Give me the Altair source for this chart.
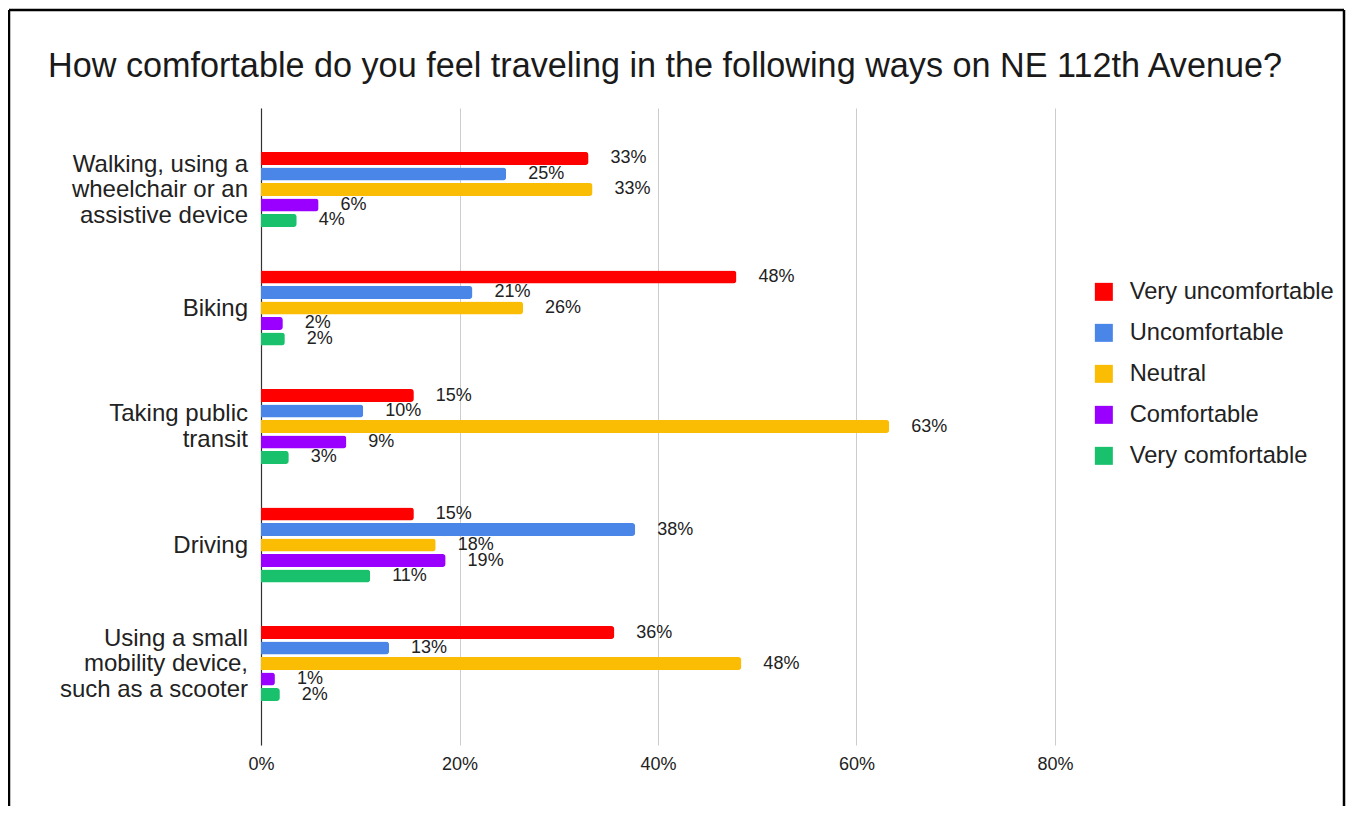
import altair as alt
import pandas as pd

categories = [
    "Walking, using a|wheelchair or an|assistive device",
    "Biking",
    "Taking public|transit",
    "Driving",
    "Using a small|mobility device,|such as a scooter",
]
series = ["Very uncomfortable", "Uncomfortable", "Neutral", "Comfortable", "Very comfortable"]
colors = ["#ff0000", "#4a86e8", "#fbbc04", "#9900ff", "#19c16c"]

very_uncomfortable = [0.330, 0.479, 0.154, 0.154, 0.356]
uncomfortable = [0.247, 0.213, 0.103, 0.377, 0.129]
neutral = [0.334, 0.264, 0.633, 0.176, 0.484]
comfortable = [0.058, 0.022, 0.086, 0.186, 0.014]
very_comfortable = [0.036, 0.024, 0.028, 0.110, 0.019]

x_ticks = [0, 0.2, 0.4, 0.6, 0.8]
title_text = "How comfortable do you feel traveling in the following ways on NE 112th Avenue?"

rows = []
for s, vals in zip(series, [very_uncomfortable, uncomfortable, neutral, comfortable, very_comfortable]):
    for c, v in zip(categories, vals):
        rows.append({"category": c, "series": s, "value": v})
df = pd.DataFrame(rows)
cat_df = pd.DataFrame({"category": categories})

FONT = "Liberation Sans, Arial, sans-serif"
LINE_H = 25.5

y_enc = alt.Y(
    "category:N",
    sort=categories,
    scale=alt.Scale(paddingInner=0.367, paddingOuter=0.371),
    axis=alt.Axis(
        title=None,
        ticks=False,
        domain=True,
        domainColor="#333333",
        domainWidth=1.2,
        labels=False,
        grid=False,
    ),
)
yoff_enc = alt.YOffset("series:N", sort=series, scale=alt.Scale(paddingInner=0.16, paddingOuter=0))
x_enc = alt.X(
    "value:Q",
    scale=alt.Scale(domain=[0, 0.8], nice=False),
    axis=alt.Axis(
        title=None,
        values=x_ticks,
        format=".0%",
        grid=True,
        gridColor="#cccccc",
        domain=False,
        ticks=False,
        labelFlush=False,
        labelFontSize=18,
        labelPadding=10,
        labelColor="#222222",
        labelFont=FONT,
    ),
)

bars = alt.Chart(df).mark_bar(cornerRadiusEnd=3).encode(
    x=x_enc,
    y=y_enc,
    yOffset=yoff_enc,
    color=alt.Color(
        "series:N",
        sort=series,
        scale=alt.Scale(domain=series, range=colors),
        legend=alt.Legend(
            title=None,
            orient="none",
            legendX=831,
            legendY=172,
            symbolType="square",
            symbolSize=324,
            symbolStrokeWidth=0,
            labelFontSize=23.7,
            labelFont=FONT,
            labelColor="#222222",
            labelOffset=14,
            rowPadding=16,
            padding=0,
            labelLimit=400,
        ),
    ),
)

labels = alt.Chart(df).mark_text(
    align="left", baseline="middle", dx=22, fontSize=18, font=FONT, color="#222222"
).encode(
    x="value:Q",
    y=alt.Y("category:N", sort=categories),
    yOffset=alt.YOffset("series:N", sort=series),
    text=alt.Text("value:Q", format=".0%"),
)

cat_labels = alt.Chart(cat_df).transform_calculate(
    lines="split(datum.category, '|')",
    shift=f"-(length(split(datum.category, '|')) - 1) * {LINE_H / 2}",
).mark_text(
    align="right",
    baseline="middle",
    fontSize=24,
    font=FONT,
    color="#222222",
    lineHeight=LINE_H,
    dy=alt.expr("datum.shift + 0.7"),
).encode(
    x=alt.value(-13),
    y=alt.Y("category:N", sort=categories),
    text=alt.Text("lines:N"),
)

frame_data = alt.Data(values=[{"k": 1}])

title_mark = alt.Chart(frame_data).mark_text(
    text=title_text,
    align="left",
    baseline="alphabetic",
    fontSize=34.2,
    font=FONT,
    color="#1a1a1a",
).encode(x=alt.value(-213), y=alt.value(-31))

frame_top = alt.Chart(frame_data).mark_rule(color="#000000", strokeWidth=2.5).encode(
    x=alt.value(-252), x2=alt.value(1083), y=alt.value(-98)
)
frame_left = alt.Chart(frame_data).mark_rule(color="#000000", strokeWidth=2.5).encode(
    x=alt.value(-252), y=alt.value(-98), y2=alt.value(700)
)
frame_right = alt.Chart(frame_data).mark_rule(color="#000000", strokeWidth=2.5).encode(
    x=alt.value(1083), y=alt.value(-98), y2=alt.value(700)
)

chart = alt.layer(
    bars, labels, cat_labels, title_mark, frame_top, frame_left, frame_right
).properties(
    width=794,
    height=637,
    padding={"left": 253, "top": 100, "right": 291, "bottom": 61},
    autosize=alt.AutoSizeParams(type="none"),
).configure(
    background="white",
    view=alt.ViewConfig(stroke="transparent"),
)

chart.save("out.html", embed_options={"renderer": "svg", "actions": False})
